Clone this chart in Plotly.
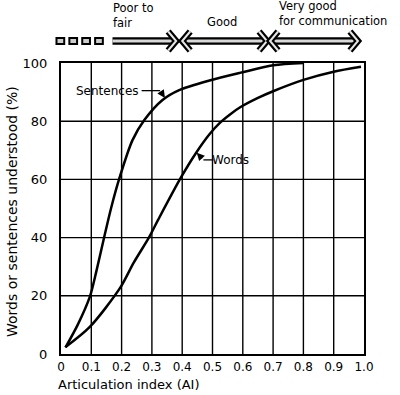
import plotly.graph_objects as go

# ---- data ----
sent_x = [0.015, 0.055, 0.095, 0.118, 0.14, 0.165, 0.193, 0.236, 0.275, 0.335, 0.39, 0.49, 0.59, 0.70, 0.80]
sent_y = [2.3, 10.0, 19.6, 29, 39, 50, 60.5, 73.5, 80.4, 87.3, 90.7, 94.0, 96.6, 99.2, 100]

word_x = [0.014, 0.095, 0.195, 0.24, 0.29, 0.32, 0.395, 0.445, 0.49, 0.525, 0.56, 0.59, 0.65, 0.70, 0.80, 0.90, 0.99]
word_y = [2.3, 9.3, 22.7, 31.4, 40, 46, 60.5, 69, 75.5, 79.5, 82.5, 84.7, 88, 90.3, 94.2, 97, 98.7]

x_ticks = [0, 0.1, 0.2, 0.3, 0.4, 0.5, 0.6, 0.7, 0.8, 0.9, 1.0]
x_tick_text = ["0", "0.1", "0.2", "0.3", "0.4", "0.5", "0.6", "0.7", "0.8", "0.9", "1.0"]
y_ticks = [0, 20, 40, 60, 80, 100]

band_labels = ["Poor to<br>fair", "Good", "Very good<br>for communication"]
band_start = [0.17, 0.40, 0.69]
band_end = [0.38, 0.68, 0.98]
poor_dash_start = -0.02
poor_dash_end = 0.15

FONT = "DejaVu Sans"
W, H = 400, 395
L, R, T, B = 61, 36, 63, 41
PW, PH = W - L - R, H - T - B

fig = go.Figure()
fig.add_trace(go.Scatter(x=sent_x, y=sent_y, mode="lines", line=dict(color="black", width=2.5, shape="spline", smoothing=0.8),
                         showlegend=False, hoverinfo="skip"))
fig.add_trace(go.Scatter(x=word_x, y=word_y, mode="lines", line=dict(color="black", width=2.5, shape="spline", smoothing=0.8),
                         showlegend=False, hoverinfo="skip"))

shapes = []
annotations = []

# ---- explicit grid (from the tick lists) ----
for xv in x_ticks[1:-1]:
    shapes.append(dict(type="line", xref="x", yref="paper", x0=xv, x1=xv, y0=0, y1=1, layer="below",
                       line=dict(color="black", width=1.4)))
for yv in y_ticks[1:-1]:
    shapes.append(dict(type="line", xref="paper", yref="y", x0=0, x1=1, y0=yv, y1=yv, layer="below",
                       line=dict(color="black", width=1.4)))

# ---- header arrows (paper coordinates) ----
ya = 1 + 22 / PH       # arrow centre line
dxp = 8 / PW
dyp = 9.5 / PH


def chevron(x, direction):
    xb = x - direction * dxp
    path = f"M {xb},{ya + dyp} L {x},{ya} L {xb},{ya - dyp}"
    return [dict(type="path", xref="paper", yref="paper", path=path, line=dict(color="black", width=6.5)),
            dict(type="path", xref="paper", yref="paper", path=path, line=dict(color="#e6e6e6", width=2))]


for i, (s, e) in enumerate(zip(band_start, band_end)):
    shapes.append(dict(type="line", xref="paper", yref="paper", x0=s, x1=e - 0.012, y0=ya, y1=ya,
                       line=dict(color="black", width=7.5)))
    shapes.append(dict(type="line", xref="paper", yref="paper", x0=s, x1=e - 0.012, y0=ya, y1=ya,
                       line=dict(color="#d8d8d8", width=3)))
    shapes += chevron(e, 1)
    if i > 0:
        shapes += chevron(s, -1)

# dashed squares before "poor to fair"
n_sq = 4
step = (poor_dash_end - poor_dash_start) / n_sq
for k in range(n_sq):
    x0 = poor_dash_start + k * step + step * 0.12
    x1 = x0 + step * 0.6
    shapes.append(dict(type="rect", xref="paper", yref="paper", x0=x0, x1=x1, y0=ya - 3 / PH, y1=ya + 3 / PH,
                       line=dict(color="black", width=2), fillcolor="#cccccc"))

hfont = dict(family=FONT, size=11.5, color="black")
annotations.append(dict(xref="paper", yref="paper", x=(111 - L) / PW, y=(354 - 15.5) / PH, text=band_labels[0],
                        showarrow=False, xanchor="left", yanchor="middle", align="left", font=hfont))
annotations.append(dict(xref="paper", yref="paper", x=(222 - L) / PW, y=(354 - 22) / PH, text=band_labels[1],
                        showarrow=False, xanchor="center", yanchor="middle", font=hfont))
annotations.append(dict(xref="paper", yref="paper", x=(277 - L) / PW, y=(354 - 14) / PH, text=band_labels[2],
                        showarrow=False, xanchor="left", yanchor="middle", align="left", font=hfont))

# ---- curve labels with leaders ----
lfont = dict(family=FONT, size=12, color="black")
annotations.append(dict(x=0.152, y=90.5, text="Sentences", showarrow=False, xanchor="center", yanchor="middle",
                        font=lfont))
shapes.append(dict(type="line", xref="x", yref="y", x0=0.266, x1=0.327, y0=90.5, y1=90.5,
                   line=dict(color="black", width=1.3)))
annotations.append(dict(x=0.343, y=88.0, ax=0.327, ay=90.5, axref="x", ayref="y", text="", showarrow=True,
                        arrowhead=2, arrowsize=1.2, arrowwidth=1.3, arrowcolor="black", standoff=0))

annotations.append(dict(x=0.561, y=66.7, text="Words", showarrow=False, xanchor="center", yanchor="middle",
                        font=lfont))
shapes.append(dict(type="line", xref="x", yref="y", x0=0.503, x1=0.47, y0=66.7, y1=66.7,
                   line=dict(color="black", width=1.3)))
annotations.append(dict(x=0.448, y=69.2, ax=0.47, ay=66.7, axref="x", ayref="y", text="", showarrow=True,
                        arrowhead=2, arrowsize=1.2, arrowwidth=1.3, arrowcolor="black", standoff=0))

# ---- axis titles ----
annotations.append(dict(xref="paper", yref="paper", x=(12 - L) / PW, y=(354 - 212) / PH,
                        text="Words or sentences understood (%)", textangle=-90, showarrow=False,
                        xanchor="center", yanchor="middle", font=dict(family=FONT, size=14, color="black")))
annotations.append(dict(xref="paper", yref="paper", x=(56 - L) / PW, y=(354 - 384) / PH,
                        text="Articulation index (AI)", showarrow=False,
                        xanchor="left", yanchor="middle", font=dict(family=FONT, size=13, color="black")))

fig.update_layout(
    width=W, height=H,
    margin=dict(l=L, r=R, t=T, b=B),
    paper_bgcolor="white", plot_bgcolor="white",
    shapes=shapes, annotations=annotations,
    font=dict(family=FONT, color="black"),
)
fig.update_xaxes(range=[0, 1], tickvals=x_ticks, ticktext=x_tick_text, showgrid=False,
                 showline=True, linecolor="black", linewidth=2, mirror=True, zeroline=False,
                 ticks="", ticklabelstandoff=1, tickfont=dict(family=FONT, size=12, color="black"))
fig.update_yaxes(range=[0, 100], tickvals=y_ticks, showgrid=False,
                 showline=True, linecolor="black", linewidth=2, mirror=True, zeroline=False,
                 ticks="", ticklabelstandoff=9, tickfont=dict(family=FONT, size=13, color="black"))

fig.write_html("out.html", config={"displayModeBar": False},
               post_script="document.body.style.margin='0';")
